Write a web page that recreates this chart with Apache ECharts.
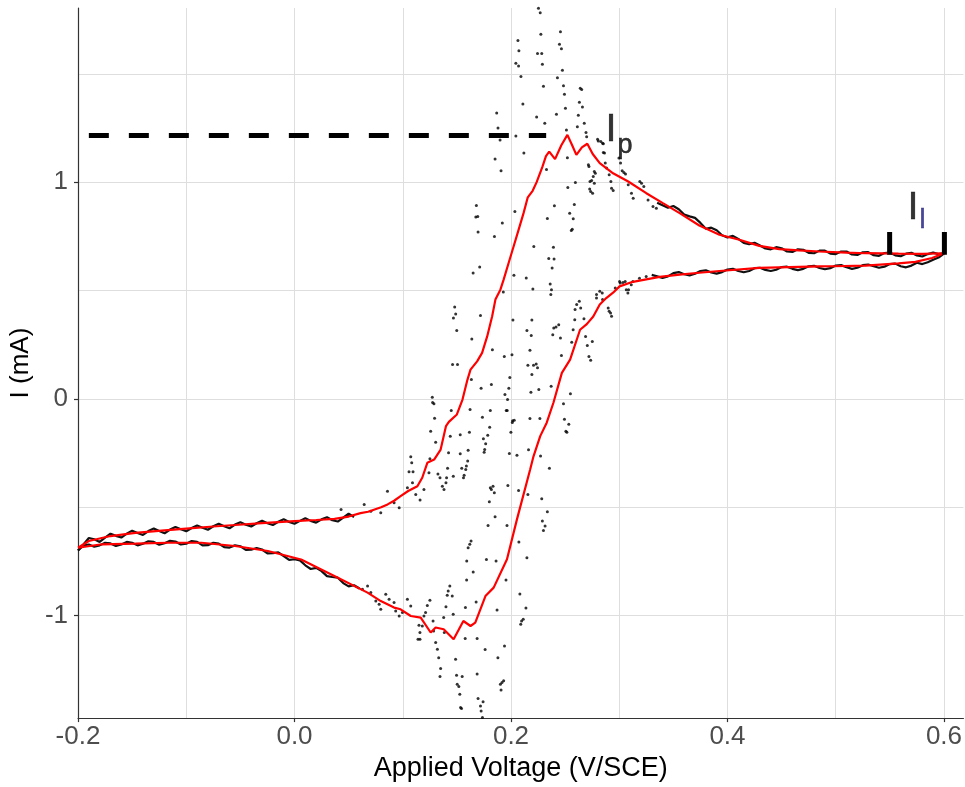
<!DOCTYPE html>
<html><head><meta charset="utf-8">
<script src="https://cdn.jsdelivr.net/npm/echarts@6/dist/echarts.min.js"></script>
<style>html,body{margin:0;padding:0;background:#fff}#c{width:965px;height:787px}</style>
</head><body><div id="c"></div>
<script>
// ---- data (V vs SCE, mA) ----
const xTickLabels = [-0.2, 0.0, 0.2, 0.4, 0.6];
const yTickLabels = [-1, 0, 1];

// smoothed (red) cycle: forward sweep then reverse sweep
const redForward = [
[-0.2,-0.687],[-0.19,-0.656],[-0.17,-0.633],[-0.147,-0.618],[-0.12,-0.607],[-0.1,-0.599],[-0.075,-0.589],[-0.055,-0.582],
[-0.03,-0.573],[0,-0.564],[0.02,-0.559],[0.037,-0.554],[0.05,-0.543],[0.061,-0.527],[0.068,-0.521],[0.08,-0.5],[0.086,-0.487],
[0.092,-0.47],[0.098,-0.449],[0.105,-0.425],[0.1135,-0.403],[0.118,-0.364],[0.1227,-0.295],[0.129,-0.28],[0.135,-0.234],
[0.1399,-0.126],[0.1426,-0.106],[0.15,-0.072],[0.1552,-0.003],[0.1598,0.089],[0.1626,0.135],[0.1687,0.173],[0.1733,0.212],
[0.178,0.288],[0.1826,0.381],[0.1856,0.458],[0.1902,0.504],[0.1932,0.55],[0.1978,0.627],[0.2024,0.703],[0.207,0.78],
[0.2116,0.857],[0.2155,0.93],[0.22,0.96],[0.2237,1.0],[0.229,1.07],[0.2323,1.12],[0.2353,1.141],[0.2407,1.106],
[0.2465,1.17],[0.2521,1.218],[0.2565,1.17],[0.2604,1.126],[0.2655,1.16],[0.2705,1.177],[0.2755,1.13],[0.282,1.088],
[0.2943,1.041],[0.3083,1.003],[0.325,0.949],[0.3403,0.903],[0.3558,0.857],[0.374,0.8],[0.3926,0.757],[0.411,0.734],
[0.4294,0.706],[0.4478,0.691],[0.466,0.685],[0.4846,0.68],[0.51,0.675],[0.5276,0.672],[0.558,0.67],[0.58,0.669],[0.6,0.672]
];
const redReverse = [
[0.6,0.672],[0.589,0.65],[0.5736,0.632],[0.558,0.625],[0.5276,0.615],[0.497,0.612],[0.4846,0.611],[0.4294,0.604],
[0.3926,0.59],[0.374,0.582],[0.3558,0.573],[0.3374,0.563],[0.3126,0.54],[0.3003,0.519],[0.2943,0.49],[0.288,0.465],
[0.282,0.435],[0.276,0.38],[0.27,0.345],[0.2638,0.319],[0.2546,0.181],[0.247,0.12],[0.2392,-0.018],[0.233,-0.11],
[0.227,-0.172],[0.2208,-0.265],[0.2177,-0.326],[0.2055,-0.556],[0.1963,-0.74],[0.184,-0.871],[0.1764,-0.91],
[0.167,-1.032],[0.1626,-1.048],[0.156,-1.025],[0.147,-1.109],[0.1378,-1.063],[0.1304,-1.055],[0.1258,-1.078],
[0.1166,-1.009],[0.1074,-1.002],[0.098,-0.971],[0.092,-0.963],[0.0797,-0.933],[0.0675,-0.894],[0.0368,-0.817],
[0.0061,-0.741],[-0.0246,-0.702],[-0.055,-0.679],[-0.086,-0.664],[-0.117,-0.664],[-0.147,-0.668],[-0.178,-0.671],[-0.2,-0.687]
];

// raw (black) data: dense tails
const rawTailFwdLow = [
[-0.2,-0.70],[-0.195,-0.672],[-0.19,-0.642],[-0.185,-0.648],[-0.18,-0.66],[-0.175,-0.64],[-0.17,-0.622],[-0.165,-0.632],
[-0.16,-0.64],[-0.155,-0.622],[-0.15,-0.608],[-0.145,-0.619],[-0.14,-0.628],[-0.135,-0.61],[-0.13,-0.598],[-0.125,-0.61],
[-0.12,-0.62],[-0.115,-0.603],[-0.11,-0.591],[-0.105,-0.602],[-0.1,-0.611],[-0.095,-0.596],[-0.09,-0.584],[-0.085,-0.595],
[-0.08,-0.604],[-0.075,-0.588],[-0.07,-0.576],[-0.065,-0.588],[-0.06,-0.597],[-0.055,-0.58],[-0.05,-0.569],[-0.045,-0.581],
[-0.04,-0.589],[-0.035,-0.574],[-0.03,-0.562],[-0.025,-0.574],[-0.02,-0.582],[-0.015,-0.567],[-0.01,-0.556],[-0.005,-0.568],
[0,-0.576],[0.005,-0.563],[0.01,-0.551],[0.015,-0.563],[0.02,-0.571],[0.025,-0.556],[0.03,-0.546],[0.035,-0.56],
[0.04,-0.566],[0.045,-0.548],[0.05,-0.53],[0.055,-0.545]
];
const rawTailFwdHigh = [
[0.335,0.905],[0.34,0.893],[0.345,0.882],[0.35,0.89],[0.355,0.875],[0.36,0.85],[0.365,0.842],[0.37,0.835],[0.375,0.812],
[0.38,0.785],[0.385,0.79],[0.39,0.778],[0.395,0.755],[0.4,0.745],[0.405,0.752],[0.41,0.738],[0.415,0.72],[0.42,0.714],
[0.425,0.72],[0.43,0.708],[0.435,0.694],[0.44,0.69],[0.445,0.7],[0.45,0.695],[0.455,0.68],[0.46,0.678],[0.465,0.69],
[0.47,0.688],[0.475,0.674],[0.48,0.672],[0.485,0.684],[0.49,0.684],[0.495,0.67],[0.5,0.668],[0.505,0.68],[0.51,0.68],
[0.515,0.666],[0.52,0.664],[0.525,0.676],[0.53,0.677],[0.535,0.663],[0.54,0.66],[0.545,0.673],[0.55,0.675],[0.555,0.662],
[0.56,0.658],[0.565,0.67],[0.57,0.674],[0.575,0.662],[0.58,0.657],[0.585,0.668],[0.59,0.675],[0.595,0.668],[0.6,0.672]
];
const rawTailRevHigh = [
[0.6,0.67],[0.595,0.652],[0.59,0.642],[0.585,0.63],[0.58,0.622],[0.575,0.628],[0.57,0.615],[0.565,0.607],[0.56,0.612],
[0.555,0.624],[0.55,0.622],[0.545,0.61],[0.54,0.605],[0.535,0.612],[0.53,0.62],[0.525,0.617],[0.52,0.605],[0.515,0.6],
[0.51,0.607],[0.505,0.617],[0.5,0.615],[0.495,0.603],[0.49,0.598],[0.485,0.604],[0.48,0.614],[0.475,0.612],[0.47,0.6],
[0.465,0.594],[0.46,0.6],[0.455,0.61],[0.45,0.608],[0.445,0.596],[0.44,0.59],[0.435,0.595],[0.43,0.605],[0.425,0.603],
[0.42,0.59],[0.415,0.584],[0.41,0.59],[0.405,0.6],[0.4,0.597],[0.395,0.585],[0.39,0.578],[0.385,0.583],[0.38,0.593],
[0.375,0.59],[0.37,0.577],[0.365,0.57],[0.36,0.575],[0.355,0.585],[0.35,0.58],[0.345,0.565],[0.34,0.558],[0.335,0.565],[0.33,0.572]
];
const rawTailRevLow = [
[0.06,-0.875],[0.055,-0.86],[0.05,-0.865],[0.045,-0.85],[0.04,-0.825],[0.035,-0.822],[0.03,-0.818],[0.025,-0.795],
[0.02,-0.78],[0.015,-0.785],[0.01,-0.768],[0.005,-0.745],[0,-0.74],[-0.005,-0.743],[-0.01,-0.725],[-0.015,-0.708],
[-0.02,-0.712],[-0.025,-0.713],[-0.03,-0.695],[-0.035,-0.688],[-0.04,-0.696],[-0.045,-0.697],[-0.05,-0.68],[-0.055,-0.676],
[-0.06,-0.686],[-0.065,-0.684],[-0.07,-0.668],[-0.075,-0.664],[-0.08,-0.675],[-0.085,-0.676],[-0.09,-0.66],[-0.095,-0.656],
[-0.1,-0.668],[-0.105,-0.672],[-0.11,-0.658],[-0.115,-0.655],[-0.12,-0.666],[-0.125,-0.673],[-0.13,-0.66],[-0.135,-0.657],
[-0.14,-0.668],[-0.145,-0.676],[-0.15,-0.664],[-0.155,-0.66],[-0.16,-0.672],[-0.165,-0.679],[-0.17,-0.667],[-0.175,-0.664],
[-0.18,-0.676],[-0.185,-0.682],[-0.19,-0.672],[-0.195,-0.676],[-0.2,-0.7]
];
// raw (black) data: noisy points of the redox region
const rawScatter = [
[0.2254,1.802],[0.227,1.782],[0.2276,1.682],[0.2064,1.653],[0.2073,1.606],[0.2245,1.594],[0.2284,1.594],[0.2045,1.548],
[0.207,1.536],[0.229,1.544],[0.2457,1.694],[0.2448,1.636],[0.2466,1.616],[0.2475,1.516],[0.2092,1.488],[0.2429,1.482],
[0.23,1.442],[0.2485,1.445],[0.264,1.433],[0.2653,1.428],[0.2494,1.405],[0.2632,1.369],[0.266,1.347],[0.211,1.361],
[0.2503,1.341],[0.242,1.313],[0.1868,1.319],[0.188,1.25],[0.1899,1.195],[0.2237,1.301],[0.2622,1.309],[0.2677,1.272],
[0.2312,1.272],[0.2613,1.255],[0.2512,1.241],[0.2693,1.229],[0.2699,1.21],[0.2045,1.213],[0.2806,1.19],[0.283,1.187],
[0.2846,1.18],[0.2119,1.134],[0.2864,1.134],[0.2521,1.112],[0.1853,1.107],[0.272,1.072],[0.2328,1.058],[0.1908,1.052],
[0.2779,1.041],[0.276,1.026],[0.273,1.003],[0.277,0.995],[0.2595,0.998],[0.2525,0.975],[0.2736,0.957],[0.2754,0.949],
[0.168,0.892],[0.1675,0.839],[0.1693,0.841],[0.1696,0.77],[0.192,0.811],[0.1847,0.749],[0.2036,0.864],[0.2401,0.891],
[0.2585,0.897],[0.2542,0.857],[0.2575,0.831],[0.2566,0.783],[0.2557,0.777],[0.2336,0.832],[0.2211,0.703],[0.2392,0.699],
[0.2349,0.648],[0.1711,0.608],[0.165,0.581],[0.148,0.424],[0.1468,0.373],[0.1718,0.385],[0.1929,0.493],[0.2027,0.57],
[0.2141,0.558],[0.2202,0.507],[0.2398,0.645],[0.238,0.604],[0.2362,0.53],[0.2374,0.504],[0.2368,0.481],
[0.2715,1.08],[0.277,1.049],[0.2745,1.007],[0.2727,0.968],[0.28,1.198],[0.2853,1.177],[0.2853,1.137],[0.2871,1.088],
[0.2883,1.065],[0.2907,1.034],[0.2923,1.003],[0.2929,0.972],[0.2944,0.961],[0.2997,1.111],[0.3012,1.088],[0.3027,1.053],
[0.3043,1.044],[0.3058,1.038],[0.3083,0.988],[0.3113,0.949],[0.3129,0.926],[0.319,1.003],[0.3206,0.995],[0.3227,0.98],
[0.3266,0.918],[0.3312,0.888],[0.3343,0.88],
[0.2592,0.412],[0.2607,0.435],[0.2631,0.45],[0.2644,0.419],[0.279,0.481],[0.282,0.496],[0.2843,0.488],[0.2898,0.419],
[0.292,0.396],[0.3003,0.542],[0.3034,0.537],[0.3065,0.504],[0.308,0.489],[0.3111,0.527],[0.3126,0.542],[0.3187,0.557],
[0.3249,0.565],[0.2589,0.365],[0.2674,0.37],[0.2689,0.288],[0.2705,0.246],[0.272,0.196],[0.2736,0.178],[0.2751,0.265],
[0.2574,0.319],[0.2561,0.261],[0.2466,0.2],[0.279,0.465],[0.2846,0.458],[0.2907,0.404],[0.2929,0.381],[0.2963,0.512],
[0.3009,0.535],[0.3055,0.542],[0.3086,0.504],[0.2395,0.327],[0.2416,0.332],[0.2441,0.342],[0.2457,0.281],[0.2386,0.296],
[0.1489,0.392],[0.1499,0.315],[0.2018,0.364],[0.2193,0.364],[0.2147,0.315],[0.2187,0.292],[0.1638,0.276],[0.1828,0.227],
[0.1938,0.195],[0.2009,0.204],[0.2175,0.224],[0.146,0.158],[0.1506,0.158],[0.2156,0.155],[0.2208,0.155],[0.2233,0.161],
[0.2245,0.143],[0.2193,0.112],[0.1634,0.089],[0.1989,0.098],[0.1724,0.049],[0.1819,0.066],[0.198,0.049],[0.2257,0.043],
[0.2184,0.03],[0.1944,0.02],[0.1968,-0.003],[0.1956,-0.054],[0.1965,-0.054],[0.1273,0.007],[0.1276,-0.017],[0.1288,-0.022],
[0.2371,0.058],[0.2549,0.024],[0.2485,-0.022],[0.1622,-0.049],[0.1809,-0.054],[0.1448,-0.054],[0.1294,-0.089],[0.1736,-0.085],
[0.2015,-0.101],[0.203,-0.099],[0.2012,-0.109],[0.2175,-0.091],[0.2267,-0.091],[0.2494,-0.094],[0.2534,-0.117],[0.2507,-0.149],
[0.2516,-0.154],[0.1258,-0.149],[0.1616,-0.154],[0.1999,-0.154],[0.1803,-0.131],[0.1785,-0.168],[0.1766,-0.207],[0.1745,-0.184],
[0.1757,-0.234],[0.1752,-0.246],[0.1531,-0.166],[0.1439,-0.172],[0.1304,-0.2],[0.2162,-0.235],[0.1423,-0.249],[0.1531,-0.253],
[0.1604,-0.237],[0.1985,-0.252],[0.2055,-0.26],[0.2273,-0.264],[0.1074,-0.267],[0.1083,-0.295],[0.1058,-0.336],[0.1095,-0.336],
[0.1251,-0.276],[0.16,-0.287],[0.1588,-0.31],[0.1545,-0.32],[0.1582,-0.326],[0.1567,-0.353],[0.1561,-0.364],[0.1414,-0.32],
[0.2355,-0.32],[0.1325,-0.347],[0.1405,-0.364],[0.1467,-0.357],
[0.1242,-0.341],[0.1344,-0.364],[0.1366,-0.403],[0.1381,-0.418],[0.1399,-0.387],[0.1809,-0.41],[0.1819,-0.418],[0.1834,-0.403],
[0.1846,-0.433],[0.18,-0.475],[0.1971,-0.4],[0.207,-0.423],[0.2156,-0.441],[0.2284,-0.461],[0.1853,-0.544],[0.1788,-0.584],
[0.1963,-0.584],[0.229,-0.564],[0.2315,-0.587],[0.23,-0.607],[0.2336,-0.521],[0.1631,-0.656],[0.1619,-0.671],[0.1604,-0.687],
[0.2073,-0.661],[0.1591,-0.748],[0.1773,-0.741],[0.1862,-0.748],[0.2147,-0.733],[0.1651,-0.799],[0.159,-0.836],[0.1954,-0.836],
[0.1435,-0.864],[0.142,-0.887],[0.1411,-0.906],[0.1457,-0.91],[0.1678,-0.937],[0.2082,-0.9],[0.1399,-0.959],[0.1579,-0.963],
[0.1871,-0.974],[0.2138,-0.965],[0.1251,-0.929],[0.1227,-0.953],[0.1211,-0.986],[0.1196,-1.002],[0.1466,-0.994],[0.1378,-1.009],
[0.1384,-1.078],[0.2098,-1.025],[0.2113,-1.017],[0.209,-1.04],[0.115,-1.045],[0.1181,-1.048],[0.1159,-1.078],[0.1141,-1.109],
[0.1159,-1.109],[0.128,-1.025],[0.1285,-1.071],[0.1577,-1.106],[0.1687,-1.106],[0.1304,-1.124],[0.132,-1.155],[0.1332,-1.194],
[0.1761,-1.157],[0.1879,-1.194],[0.194,-1.14],[0.1488,-1.201],[0.135,-1.244],[0.1344,-1.281],[0.1497,-1.275],[0.1549,-1.281],
[0.1687,-1.27],[0.1902,-1.317],[0.1917,-1.309],[0.1932,-1.301],[0.1908,-1.343],[0.1503,-1.317],[0.1518,-1.327],[0.1527,-1.363],
[0.1696,-1.383],[0.1742,-1.398],[0.1718,-1.417],[0.1724,-1.44],[0.1534,-1.424],[0.1543,-1.429],[0.1736,-1.47],
[0.0859,-0.426],[0.092,-0.479],[0.0967,-0.502],[0.1043,-0.41],[0.109,-0.387],[0.112,-0.441],[0.116,-0.467],[0.1196,-0.418],
[0.0644,-0.487],[0.043,-0.51],[0.0705,-0.518],[0.0797,-0.525],
[0.0628,-0.879],[0.0675,-0.864],[0.0705,-0.894],[0.0751,-0.933],[0.0782,-0.948],[0.0797,-0.971],[0.0843,-0.902],[0.0874,-0.925],
[0.092,-0.94],[0.0935,-0.979],[0.0967,-1.002],[0.0997,-0.986],[0.1043,-0.925],[0.1074,-0.956]
];

// annotations
const peakGuide = [[-0.19, 1.215], [0.2325, 1.215]];
const limitBars = [[[0.5498, 0.665], [0.5498, 0.77]], [[0.6004, 0.665], [0.6004, 0.77]]];
const labelMain = [
  { value: [0.2875, 1.237], text: 'I' },
  { value: [0.5665, 0.878], text: 'I' }
];
const labelSub = [
  { value: [0.2985, 1.168], text: 'p', color: '#000000' },
  { value: [0.5775, 0.8215], text: 'l', color: '#1a1a80' }
];

const FONT = "'Liberation Sans', Arial, sans-serif";
const chart = echarts.init(document.getElementById('c'), null, { renderer: 'canvas' });

const near = (v, list) => list.some(t => Math.abs(v - t) < 1e-6);

const tailSeries = [rawTailFwdLow, rawTailFwdHigh, rawTailRevHigh, rawTailRevLow].map(d => ({
  type: 'line', data: d, showSymbol: false, silent: true, z: 2,
  lineStyle: { color: '#111111', width: 2.2 }
}));

const gridColor = '#DEDEDE';
const option = {
  animation: false,
  backgroundColor: '#ffffff',
  grid: { left: 76, right: 0, top: 8, bottom: 68, containLabel: false },
  xAxis: {
    type: 'value', min: -0.2, max: 0.618, interval: 0.2,
    name: 'Applied Voltage (V/SCE)', nameLocation: 'middle', nameGap: 34,
    nameTextStyle: { fontFamily: FONT, fontSize: 27, color: '#000000' },
    axisLine: { show: true, onZero: false, lineStyle: { color: '#333333', width: 1.2 } },
    axisTick: { show: true, length: 4, customValues: xTickLabels, lineStyle: { color: '#333333', width: 1.2 } },
    axisLabel: {
      fontFamily: FONT, fontSize: 26, color: '#4D4D4D', margin: 6, customValues: xTickLabels,
      formatter: v => near(v, xTickLabels) ? Number(v).toFixed(1) : ''
    },
    minorTick: { show: false, splitNumber: 2 },
    splitLine: { show: true, lineStyle: { color: gridColor, width: 1 } },
    minorSplitLine: { show: true, lineStyle: { color: gridColor, width: 1 } }
  },
  yAxis: {
    type: 'value', min: -1.473, max: 1.8035, splitNumber: 3,
    name: 'I (mA)', nameLocation: 'middle', nameGap: 40, nameRotate: 90,
    nameTextStyle: { fontFamily: FONT, fontSize: 26, color: '#000000' },
    axisLine: { show: true, onZero: false, lineStyle: { color: '#333333', width: 1.2 } },
    axisTick: { show: true, length: 4, customValues: yTickLabels, lineStyle: { color: '#333333', width: 1.2 } },
    axisLabel: {
      fontFamily: FONT, fontSize: 26, color: '#4D4D4D', margin: 10, customValues: yTickLabels,
      formatter: v => near(v, yTickLabels) ? String(Math.round(v)) : ''
    },
    minorTick: { show: false, splitNumber: 2 },
    splitLine: { show: true, lineStyle: { color: gridColor, width: 1 } },
    minorSplitLine: { show: true, lineStyle: { color: gridColor, width: 1 } }
  },
  series: [
    ...tailSeries,
    { type: 'scatter', data: rawScatter, symbol: 'circle', symbolSize: 3, silent: true, z: 2,
      itemStyle: { color: '#000000' } },
    { type: 'line', data: redForward.concat(redReverse.slice(1)), showSymbol: false, silent: true, z: 3,
      lineStyle: { color: '#FF0000', width: 2.2 } },
    { type: 'line', data: peakGuide, showSymbol: false, silent: true, z: 4,
      lineStyle: { color: '#000000', width: 5, type: [20, 20], cap: 'butt' } },
    ...limitBars.map(d => ({ type: 'line', data: d, showSymbol: false, silent: true, z: 4,
      lineStyle: { color: '#000000', width: 5, cap: 'butt' } })),
    { type: 'scatter', symbolSize: 0, silent: true, z: 5,
      data: labelMain.map(l => ({ value: l.value, label: { formatter: l.text } })),
      label: { show: true, position: 'right', distance: 0, align: 'left', verticalAlign: 'middle',
               fontFamily: FONT, fontSize: 38, color: '#000000', textBorderWidth: 0.6, textBorderColor: '#000000' } },
    { type: 'scatter', symbolSize: 0, silent: true, z: 5,
      data: labelSub.map(l => ({ value: l.value, label: { formatter: l.text, color: l.color,
               textBorderColor: l.color } })),
      label: { show: true, position: 'right', distance: 0, align: 'left', verticalAlign: 'middle',
               fontFamily: FONT, fontSize: 27, textBorderWidth: 0.5 } }
  ]
};
chart.setOption(option);
</script></body></html>
